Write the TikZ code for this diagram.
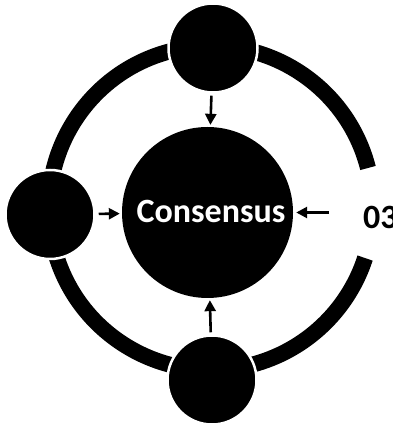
\documentclass[tikz,border=0pt]{standalone}
\usepackage{fontspec}
\setmainfont{Carlito}
\usetikzlibrary{arrows.meta}
\begin{document}
\begin{tikzpicture}[x=1pt,y=1pt,
  hub/.style={circle,fill=black,inner sep=0pt,minimum size=171pt},
  sat/.style={circle,fill=black,draw=white,line width=2.5pt,inner sep=0pt,minimum size=89pt},
  arr/.style={line width=2.6pt,-{Triangle[length=11pt,width=11pt]}},
  txt/.style={font=\bfseries\fontsize{34}{34}\selectfont,inner sep=0pt}]
\useasboundingbox (0,0) rectangle (392,425);
% outer ring, open on the right-hand side
\draw[line width=16pt] (211,217) ++(14.3:162) arc[start angle=14.3,end angle=342,radius=162];
% central hub
\node[hub] (core) at (207.5,212.5) {};
\node[txt,text=white] (corelbl) at (211,214) {Consensus};
% satellites on the ring
\node[sat] (top) at (213,377) {};
\node[sat] (left) at (50,210.5) {};
\node[sat] (bottom) at (212,45) {};
% side label
\node[txt,anchor=west] (num) at (363,208) {03};
% arrows into the hub
\draw[arr,shorten <=2pt,shorten >=2pt] (top) -- (core);
\draw[arr,shorten <=3pt,shorten >=2pt] (left) -- (core);
\draw[arr,shorten <=2pt,shorten >=2pt] (bottom) -- (core);
\draw[arr,shorten <=34pt,shorten >=3pt] (num.west |- core) -- (core);
\end{tikzpicture}
\end{document}
